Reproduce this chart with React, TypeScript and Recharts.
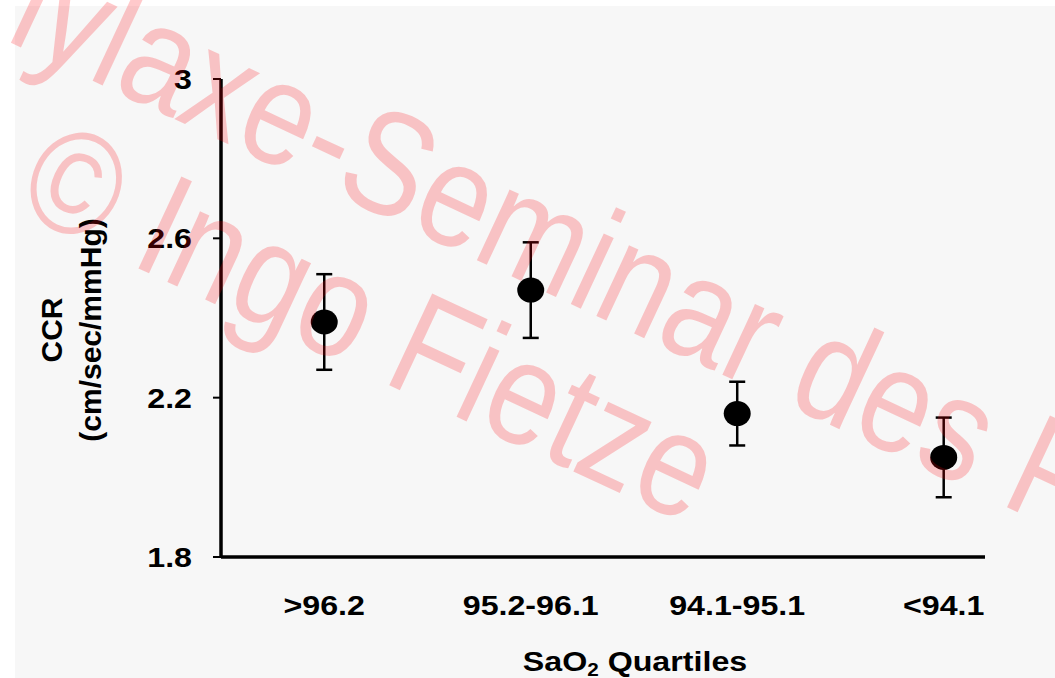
import React from 'react';
import { ScatterChart, Scatter, XAxis, YAxis, ErrorBar } from 'recharts';

const categories = ['>96.2', '95.2-96.1', '94.1-95.1', '<94.1'];
const categoryPositions = [1, 2, 3, 4];
const ccrMeans = [2.39, 2.47, 2.16, 2.05];
const ccrErrors = [0.12, 0.12, 0.08, 0.1];
const yTicks = [1.8, 2.2, 2.6, 3];
const yTickLabels = ['1.8', '2.2', '2.6', '3'];
const yTitleLines = ['CCR', '(cm/sec/mmHg)'];
const xTitleMain = 'SaO';
const xTitleSub = '2';
const xTitleRest = ' Quartiles';
const watermarkLines = ['Prophylaxe-Seminar des P', '© Ingo Fietze'];

const data = categoryPositions.map((x, i) => ({ x, y: ccrMeans[i], err: ccrErrors[i] }));

const FONT = '"Liberation Sans", Arial, Helvetica, sans-serif';
const STRETCH = 1.15;

const XTick = (props: any) => {
  const { x, y, payload } = props;
  const idx = categoryPositions.indexOf(payload.value);
  return (
    <text
      transform={`translate(${x},${y + 58}) scale(${STRETCH},1)`}
      textAnchor="middle"
      fontFamily={FONT}
      fontWeight="bold"
      fontSize={28}
      fill="#000"
    >
      {categories[idx]}
    </text>
  );
};

const YTick = (props: any) => {
  const { x, y, payload } = props;
  const idx = yTicks.indexOf(payload.value);
  return (
    <text
      transform={`translate(${x - 21},${y + 10}) scale(${STRETCH},1)`}
      textAnchor="end"
      fontFamily={FONT}
      fontWeight="bold"
      fontSize={28}
      fill="#000"
    >
      {yTickLabels[idx]}
    </text>
  );
};

const Dot = (props: any) => {
  const { cx, cy } = props;
  return <ellipse cx={cx} cy={cy} rx={13.5} ry={12.5} fill="#000" />;
};

const YTitle = () => (
  <g>
    <text
      transform="translate(62,330) rotate(-90)"
      textAnchor="middle"
      fontFamily={FONT}
      fontWeight="bold"
      fontSize={30}
      fill="#000"
    >
      {yTitleLines[0]}
    </text>
    <text
      transform="translate(101,330) rotate(-90)"
      textAnchor="middle"
      fontFamily={FONT}
      fontWeight="bold"
      fontSize={30}
      fill="#000"
    >
      {yTitleLines[1]}
    </text>
  </g>
);

const XTitle = () => (
  <text
    transform={`translate(635,671) scale(${STRETCH},1)`}
    textAnchor="middle"
    fontFamily={FONT}
    fontWeight="bold"
    fontSize={28}
    fill="#000"
  >
    <tspan>{xTitleMain}</tspan>
    <tspan fontSize={18} dy={5}>{xTitleSub}</tspan>
    <tspan dy={-5}>{xTitleRest}</tspan>
  </text>
);

const WM_ANGLE = 25;
const WM_SIZE = 125;
const WM_TALL = 1.18;

const Watermark = ({ x, y, text }: { x: number; y: number; text: string }) => (
  <text
    transform={`translate(${x},${y}) rotate(${WM_ANGLE}) scale(1,${WM_TALL})`}
    fontFamily={FONT}
    fontSize={WM_SIZE}
    fill="rgb(255,0,10)"
    fillOpacity={0.21}
  >
    {text}
  </text>
);

export default function App() {
  return (
    <div style={{ position: 'absolute', left: 0, top: 0, width: 1055, height: 678, background: '#fff', overflow: 'hidden' }}>
      <div style={{ position: 'absolute', left: 15, top: 6, right: 0, bottom: 0, background: '#f7f7f7' }} />
      <div style={{ position: 'absolute', left: 0, top: 0 }}>
        <ScatterChart width={1055} height={678} margin={{ top: 79, right: 70, bottom: 0, left: 0 }}>
          <XAxis
            type="number"
            dataKey="x"
            domain={[0.5, 4.2]}
            ticks={categoryPositions}
            allowDataOverflow
            height={121}
            tickSize={0}
            tickMargin={0}
            tickLine={false}
            axisLine={{ stroke: '#000', strokeWidth: 3.5 }}
            tick={<XTick />}
            label={{ content: () => <XTitle /> }}
          />
          <YAxis
            type="number"
            dataKey="y"
            domain={[1.8, 3]}
            ticks={yTicks}
            allowDataOverflow
            width={221}
            tickSize={8}
            tickMargin={0}
            tickLine={{ stroke: '#000', strokeWidth: 2 }}
            axisLine={{ stroke: '#000', strokeWidth: 3.5 }}
            tick={<YTick />}
            label={{ content: () => <YTitle /> }}
          />
          <Scatter data={data} fill="#000" shape={<Dot />} isAnimationActive={false}>
            <ErrorBar dataKey="err" direction="y" width={8} stroke="#000" strokeWidth={2.5} />
          </Scatter>
        </ScatterChart>
      </div>
      <svg width={1055} height={678} style={{ position: 'absolute', left: 0, top: 0, pointerEvents: 'none' }}>
        <Watermark x={-274} y={-90} text={watermarkLines[0]} />
        <Watermark x={13} y={210} text={watermarkLines[1]} />
      </svg>
    </div>
  );
}
